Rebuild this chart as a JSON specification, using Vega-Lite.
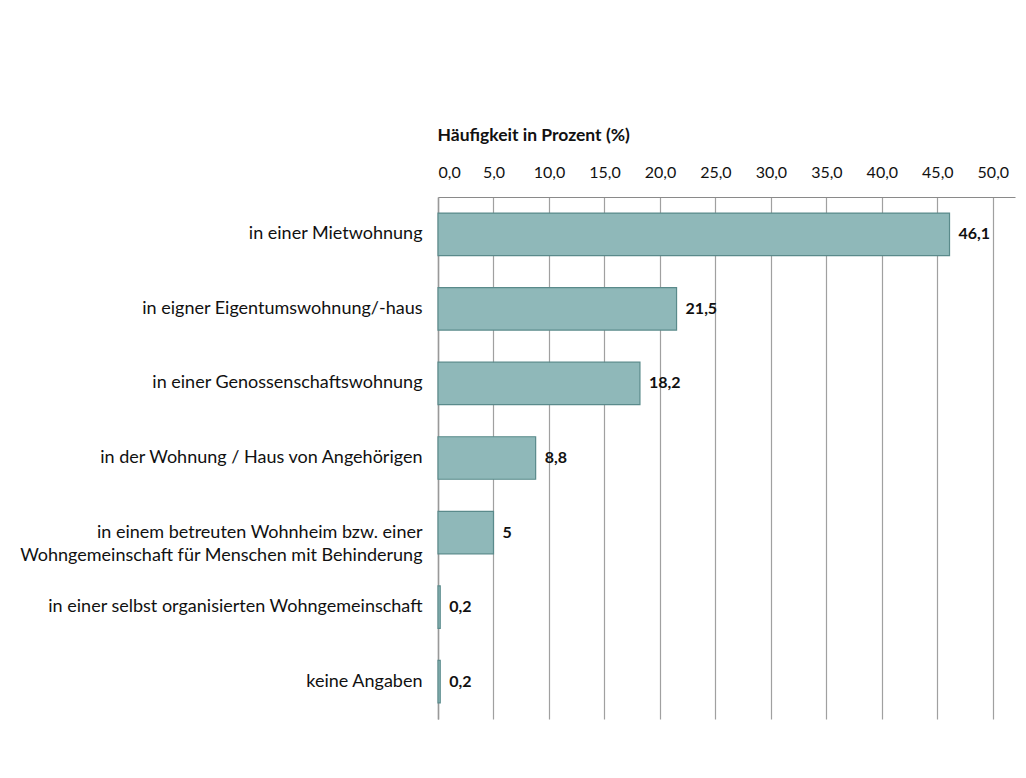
{
  "$schema": "https://vega.github.io/schema/vega-lite/v6.json",
  "autosize": "none",
  "width": 577,
  "height": 522,
  "padding": {"left": 438, "top": 197, "right": 11, "bottom": 59},
  "background": "white",
  "config": {
    "view": {"stroke": null},
    "font": "Lato",
    "locale": {"number": {"decimal": ",", "thousands": ".", "grouping": [3], "currency": ["", " €"]}}
  },
  "data": {
    "values": [
      {"category": "in einer Mietwohnung", "value": 46.1},
      {"category": "in eigner Eigentumswohnung/-haus", "value": 21.5},
      {"category": "in einer Genossenschaftswohnung", "value": 18.2},
      {"category": "in der Wohnung / Haus von Angehörigen", "value": 8.8},
      {"category": "in einem betreuten Wohnheim bzw. einer|Wohngemeinschaft für Menschen mit Behinderung", "value": 5},
      {"category": "in einer selbst organisierten Wohngemeinschaft", "value": 0.2},
      {"category": "keine Angaben", "value": 0.2}
    ]
  },
  "encoding": {
    "y": {
      "field": "category",
      "type": "nominal",
      "sort": null,
      "scale": {"paddingInner": 0.43, "paddingOuter": 0.215},
      "axis": {
        "title": null,
        "ticks": false,
        "domainColor": "#999999",
        "domainWidth": 1.5,
        "labelPadding": 16,
        "labelFontSize": 18,
        "labelColor": "#111111",
        "labelLimit": 0,
        "labelLineHeight": 23,
        "labelExpr": "split(datum.value, '|')"
      }
    },
    "x": {
      "field": "value",
      "type": "quantitative",
      "scale": {"domain": [0, 52], "nice": false},
      "axis": {
        "orient": "top",
        "values": [0, 5, 10, 15, 20, 25, 30, 35, 40, 45, 50],
        "format": ".1f",
        "grid": true,
        "gridColor": "#a0a0a0",
        "gridWidth": 1.2,
        "ticks": false,
        "domainColor": "#8a8a8a",
        "domainWidth": 1.2,
        "labelPadding": 17,
        "labelFontSize": 16,
        "labelColor": "#111111",
        "title": "Häufigkeit in Prozent (%)",
        "titleFontSize": 17.5,
        "titleFontWeight": "bold",
        "titleColor": "#111111",
        "titleAlign": "left",
        "titleX": -1,
        "titleY": -62,
        "titleBaseline": "middle"
      }
    }
  },
  "layer": [
    {"mark": {"type": "bar", "fill": "#8fb8b9", "stroke": "#5a8a8b", "strokeWidth": 1.2}},
    {
      "mark": {"type": "text", "align": "left", "dx": 9, "fontWeight": "bold", "fontSize": 16, "color": "#111111"},
      "encoding": {"text": {"field": "value", "type": "quantitative", "format": ".1~f"}}
    }
  ]
}
